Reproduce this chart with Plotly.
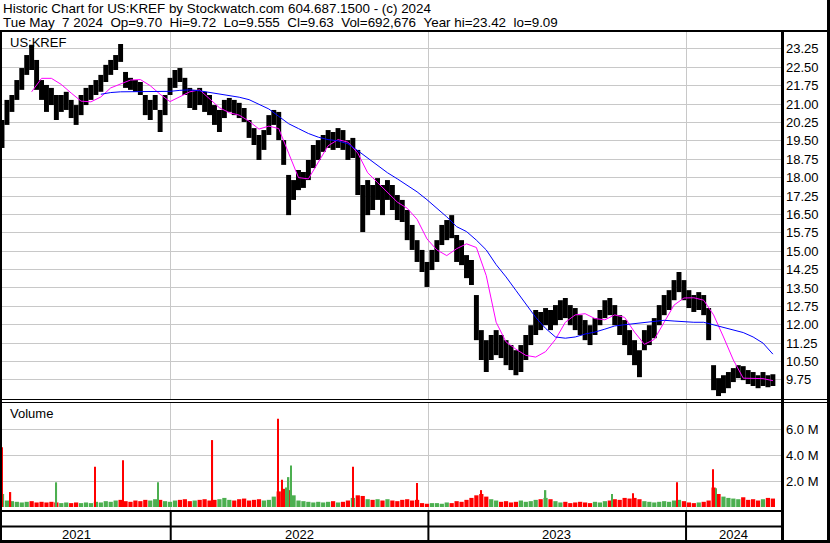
import numpy as np
import pandas as pd
import plotly.graph_objects as go

# ---------------- data (weekly) ----------------
week_start = "2021-05-07"
price_high = [20.35, 21.17, 21.37, 21.98, 22.47, 23.0, 23.42, 22.8, 21.98, 21.78,
              21.66, 21.37, 21.37, 21.5, 21.17, 20.96, 21.37, 21.66, 21.78, 21.98,
              22.19, 22.6, 22.8, 23.0, 23.45, 22.31, 22.07, 21.98, 21.9, 21.37,
              21.17, 21.37, 20.76, 21.37, 22.07, 22.39, 22.47, 22.07, 21.66, 21.58,
              21.66, 21.5, 21.37, 20.96, 20.76, 21.17, 21.25, 21.17, 21.05, 20.84,
              20.35, 20.02, 19.74, 19.94, 20.55, 20.76, 20.68, 19.53, 18.11, 17.9,
              18.31, 18.23, 18.72, 19.33, 19.53, 19.74, 19.94, 19.86, 20.02, 19.94,
              19.53, 19.62, 19.13, 17.7, 17.9, 17.7, 17.98, 17.7, 17.9, 17.7,
              17.29, 17.09, 16.68, 16.07, 15.45, 15.05, 14.56, 15.05, 15.45, 16.07,
              16.27, 16.47, 15.66, 15.45, 14.84, 14.64, 13.21, 11.78, 11.37, 11.58,
              11.78, 11.58, 11.37, 11.17, 10.96, 11.17, 11.58, 11.98, 12.6, 12.52,
              12.68, 12.6, 12.8, 13.0, 13.09, 12.8, 12.68, 12.39, 12.19, 11.98,
              12.27, 12.6, 13.0, 13.09, 12.8, 12.39, 12.19, 11.78, 11.37, 10.96,
              11.78, 11.98, 12.27, 12.8, 13.21, 13.41, 13.82, 14.15, 13.82, 13.41,
              13.21, 13.33, 13.21, 12.68, 10.35, 9.82, 9.94, 10.07, 10.23, 10.35,
              10.31, 10.15, 10.07, 9.94, 10.07, 9.94, 9.98]
price_low = [19.21, 20.15, 20.68, 21.17, 21.58, 22.19, 22.39, 21.58, 21.17, 20.68,
             20.96, 20.35, 20.68, 20.76, 20.43, 20.15, 20.55, 20.96, 21.17, 21.37,
             21.5, 21.9, 22.19, 22.39, 22.72, 21.66, 21.58, 21.5, 21.37, 20.55,
             20.35, 20.76, 19.86, 20.55, 21.37, 21.66, 21.9, 21.37, 20.84, 20.76,
             20.96, 20.68, 20.55, 20.15, 19.86, 20.43, 20.68, 20.55, 20.43, 20.27,
             19.62, 19.33, 18.72, 19.13, 19.74, 20.15, 19.53, 18.52, 16.47, 17.09,
             17.49, 17.58, 17.9, 18.39, 18.72, 19.05, 19.21, 19.13, 19.21, 19.13,
             18.72, 18.8, 17.29, 15.78, 16.47, 16.68, 17.09, 16.47, 17.09, 16.68,
             16.27, 16.19, 15.45, 15.05, 14.56, 14.15, 13.54, 14.23, 14.56, 15.25,
             15.45, 15.53, 14.56, 14.43, 13.9, 13.62, 11.37, 10.56, 10.07, 10.56,
             10.76, 10.64, 10.35, 10.15, 9.94, 10.07, 10.56, 11.17, 11.58, 11.78,
             11.98, 11.78, 11.98, 12.19, 12.27, 11.98, 11.78, 11.58, 11.37, 11.17,
             11.58, 11.98, 12.27, 12.39, 11.98, 11.58, 11.17, 10.76, 10.35, 9.86,
             10.96, 11.17, 11.45, 11.98, 12.39, 12.6, 13.0, 13.33, 13.0, 12.68,
             12.52, 12.6, 12.39, 11.37, 9.33, 9.09, 9.21, 9.41, 9.66, 9.82,
             9.74, 9.58, 9.5, 9.41, 9.5, 9.45, 9.5]
price_close = [20.1, 20.9, 21.2, 21.8, 22.3, 22.8, 22.6, 21.8, 21.5, 21.3,
               21.2, 20.8, 21.0, 21.0, 20.7, 20.5, 21.1, 21.4, 21.5, 21.8,
               21.9, 22.4, 22.6, 22.9, 22.8, 21.9, 21.8, 21.7, 21.5, 20.8,
               20.9, 21.0, 20.4, 21.2, 21.9, 22.1, 22.0, 21.6, 21.2, 21.3,
               21.2, 21.0, 20.8, 20.5, 20.6, 20.9, 21.0, 20.8, 20.7, 20.4,
               19.9, 19.6, 19.3, 19.8, 20.3, 20.5, 19.8, 18.8, 17.2, 17.5,
               17.9, 17.9, 18.4, 19.0, 19.2, 19.5, 19.6, 19.5, 19.7, 19.4,
               19.1, 19.2, 17.6, 16.9, 17.2, 17.1, 17.5, 17.0, 17.4, 17.0,
               16.7, 16.5, 15.9, 15.4, 14.9, 14.5, 14.2, 14.8, 15.2, 15.8,
               16.0, 15.8, 15.0, 14.8, 14.2, 13.9, 11.8, 11.0, 10.9, 11.2,
               11.3, 11.0, 10.8, 10.6, 10.4, 10.9, 11.3, 11.7, 12.2, 12.1,
               12.4, 12.2, 12.5, 12.7, 12.6, 12.3, 12.1, 11.9, 11.7, 11.6,
               12.0, 12.4, 12.8, 12.6, 12.2, 11.9, 11.5, 11.1, 10.7, 10.6,
               11.4, 11.7, 12.0, 12.5, 12.9, 13.1, 13.6, 13.7, 13.3, 13.0,
               12.9, 13.0, 12.7, 11.6, 9.6, 9.5, 9.7, 9.8, 10.0, 10.1,
               9.9, 9.8, 9.7, 9.6, 9.8, 9.7, 9.63]
volume_m = [1.0, 0.5, 0.45, 0.4, 0.35, 0.4, 0.45, 0.35, 0.4, 0.35, 0.4, 0.35,
            0.3, 0.35, 0.3, 0.35, 0.3, 0.35, 0.3, 0.4,
            0.35, 0.45, 0.4, 0.5, 0.55,
            0.45, 0.4, 0.5, 0.45, 0.55, 0.5, 0.6, 0.55,
            0.45, 0.4, 0.5, 0.55, 0.6, 0.45, 0.5, 0.55, 0.6, 0.5,
            0.55, 0.6, 0.7, 0.55, 0.5, 0.6, 0.65, 0.5, 0.55, 0.6, 0.5, 0.55,
            0.8, 1.2, 1.4, 1.3, 0.9,
            0.5, 0.45, 0.4, 0.35, 0.4, 0.35, 0.4, 0.45, 0.35, 0.4,
            0.5, 0.7, 0.9, 0.85, 0.6,
            0.55, 0.6, 0.5, 0.6, 0.5, 0.45, 0.55, 0.6, 0.5, 0.55,
            0.3, 0.25, 0.3, 0.3, 0.25, 0.35, 0.3,
            0.45, 0.4, 0.55, 0.7, 0.9, 1.0, 0.8, 0.6, 0.5,
            0.4, 0.45, 0.35, 0.4, 0.5, 0.4, 0.45, 0.55,
            0.6, 0.7, 0.6, 0.45,
            0.35, 0.4, 0.3, 0.35, 0.4, 0.35, 0.3, 0.4, 0.35,
            0.45, 0.5, 0.6, 0.55, 0.7, 0.65, 0.7, 0.6,
            0.45, 0.4, 0.35, 0.4, 0.45, 0.4, 0.5, 0.55,
            0.45, 0.35, 0.3, 0.35, 0.4, 0.5,
            1.5, 1.0, 0.8, 0.7, 0.65,
            0.6, 0.75, 0.55, 0.6, 0.5, 0.6, 0.7, 0.65]

# single-day volume spikes (millions)
spike_dates = ["2021-05-07", "2021-05-19", "2021-07-23", "2021-09-16", "2021-10-25",
               "2021-12-14", "2022-03-01", "2022-06-02", "2022-06-08", "2022-06-13",
               "2022-06-17", "2022-06-20", "2022-09-16", "2022-12-16", "2023-03-17",
               "2023-06-16", "2023-09-18", "2023-10-18", "2023-12-19", "2024-02-08",
               "2024-02-12"]
spike_vol = [4.6, 1.15, 1.9, 3.1, 3.6, 1.9, 5.15, 6.8, 2.1, 1.5,
             2.3, 3.2, 3.1, 1.85, 1.3, 1.3, 1.0, 1.05, 1.9, 2.9, 1.45]
spike_up = [False, False, True, False, False, True, False, False, False, True,
            True, True, False, False, False, True, True, False, False, False, True]

# moving averages, sampled every 2 weeks
ma_short_start = 6
ma_short = [21.5, 22.05, 22.05, 21.8, 21.45, 21.12, 21.09, 21.29, 21.66, 21.82,
            21.98, 22.0, 21.75, 21.4, 21.1, 21.3, 21.5, 21.58, 21.2, 20.85,
            20.65, 20.55, 20.3, 19.98, 20.1, 20.0, 19.0, 18.0, 17.95, 18.6,
            19.3, 19.55, 19.45, 19.0, 18.2, 17.8, 17.4, 17.0, 16.75, 16.3,
            15.5, 15.05, 14.82, 15.1, 15.3, 15.15, 14.0, 12.1, 11.3, 11.0,
            10.75, 10.68, 10.9, 11.4, 12.1, 12.4, 12.45, 12.25, 12.2, 12.4,
            12.3, 11.7, 11.2, 11.4, 12.1, 12.8, 13.09, 13.1, 13.0, 12.4,
            11.5, 10.56, 9.82, 9.82, 9.8, 9.72]
ma_long_start = 20
ma_long = [21.4, 21.47, 21.5, 21.5, 21.52, 21.52, 21.52, 21.52, 21.56, 21.58,
           21.54, 21.48, 21.42, 21.37, 21.28, 21.18, 21.0, 20.8, 20.5, 20.2,
           20.0, 19.8, 19.65, 19.55, 19.5, 19.38, 19.1, 18.8, 18.5, 18.2,
           17.95, 17.7, 17.42, 17.1, 16.75, 16.4, 16.0, 15.8, 15.45, 15.05,
           14.45, 13.95, 13.4, 12.85, 12.3, 11.85, 11.5, 11.45, 11.5, 11.62,
           11.7, 11.82, 11.95, 12.0, 12.05, 12.1, 12.15, 12.18, 12.15, 12.12,
           12.1, 12.1, 12.0, 11.9, 11.8, 11.68, 11.5, 11.25, 10.8]

price_ticks = [9.75, 10.50, 11.25, 12.00, 12.75, 13.50, 14.25, 15.00, 15.75, 16.50,
               17.25, 18.00, 18.75, 19.50, 20.25, 21.00, 21.75, 22.50, 23.25]
vol_ticks = [2, 4, 6]
vol_tick_labels = ["2.0 M", "4.0 M", "6.0 M"]
year_bounds = ["2022-01-01", "2023-01-01", "2024-01-01"]
year_labels = ["2021", "2022", "2023", "2024"]
year_label_pos = ["2021-08-20", "2022-07-02", "2023-07-02", "2024-03-08"]

GAP = "\u00a0\u00a0"
header1 = "Historic Chart for US:KREF by Stockwatch.com 604.687.1500 - (c) 2024"
header2 = ("Tue May" + GAP + "7 2024" + GAP + "Op=9.70" + GAP + "Hi=9.72" + GAP +
           "Lo=9.555" + GAP + "Cl=9.63" + GAP + "Vol=692,676" + GAP +
           "Year hi=23.42" + GAP + "lo=9.09")

# ---------------- figure ----------------
W, H = 830, 543
ML, MR, MT, MB = 2, 49, 32, 33
PW, PH = W - ML - MR, H - MT - MB


def px(xp):
    return (xp - ML) / PW


def py(yp):
    return (H - MB - yp) / PH


weeks = pd.date_range(week_start, periods=len(price_high), freq="7D")
hi = np.array(price_high)
lo = np.array(price_low)
cl = np.array(price_close)
DAY = 86400000

RED = "#ff0000"
GREEN = "#4caf50"
vol_colors = [GREEN] + [GREEN if cl[i] >= cl[i - 1] else RED for i in range(1, len(cl))]

fig = go.Figure()
fig.add_trace(go.Bar(x=weeks, y=hi - lo, base=lo, width=7.0 * DAY,
                     marker=dict(color="black", line=dict(width=0)),
                     xaxis="x", yaxis="y", showlegend=False))
fig.add_trace(go.Scatter(x=weeks[ma_short_start::2], y=ma_short, mode="lines",
                         line=dict(color="#ff00ff", width=1), xaxis="x", yaxis="y",
                         showlegend=False))
fig.add_trace(go.Scatter(x=weeks[ma_long_start::2], y=ma_long, mode="lines",
                         line=dict(color="#0000ff", width=1), xaxis="x", yaxis="y",
                         showlegend=False))
fig.add_trace(go.Bar(x=weeks, y=volume_m, width=6.0 * DAY,
                     marker=dict(color=vol_colors, line=dict(width=0)),
                     xaxis="x", yaxis="y2", showlegend=False))
fig.add_trace(go.Bar(x=pd.to_datetime(spike_dates), y=spike_vol, width=2.0 * DAY,
                     marker=dict(color=[GREEN if u else RED for u in spike_up],
                                 line=dict(width=0)),
                     xaxis="x", yaxis="y2", showlegend=False))

GRID = "#c8c8c8"
FONT = "Liberation Sans, Arial, sans-serif"
tick_font = dict(family=FONT, size=13, color="black")

fig.update_layout(
    width=W, height=H, margin=dict(l=ML, r=MR, t=MT, b=MB),
    paper_bgcolor="white", plot_bgcolor="white", barmode="overlay",
    font=dict(family=FONT, color="black"),
    xaxis=dict(type="date", domain=[0, 1], anchor="y2",
               range=["2021-05-07", "2024-05-14 12:00"],
               tickvals=year_bounds, showticklabels=False, ticks="",
               showgrid=True, gridcolor=GRID, gridwidth=1, zeroline=False,
               showline=False, fixedrange=True),
    yaxis=dict(domain=[py(399), 1], side="right", range=[8.97, 23.94],
               tickvals=price_ticks, ticktext=[f"{v:.2f}" for v in price_ticks],
               tickfont=tick_font, ticks="", ticklabelstandoff=4,
               showgrid=True, gridcolor=GRID, gridwidth=1, zeroline=False,
               showline=False, anchor="x"),
    yaxis2=dict(domain=[0, py(402)], side="right", range=[-0.23, 8.08],
                tickvals=vol_ticks, ticktext=vol_tick_labels,
                tickfont=tick_font, ticks="", ticklabelstandoff=4,
                showgrid=True, gridcolor=GRID, gridwidth=1, zeroline=False,
                showline=False, anchor="x"),
)

shapes = []


def hline(yp, x0p, x1p, w):
    shapes.append(dict(type="line", xref="paper", yref="paper",
                       x0=px(x0p), x1=px(x1p), y0=py(yp), y1=py(yp),
                       line=dict(color="black", width=w)))


def vline(xp, y0p, y1p, w):
    shapes.append(dict(type="line", xref="paper", yref="paper",
                       x0=px(xp), x1=px(xp), y0=py(y0p), y1=py(y1p),
                       line=dict(color="black", width=w)))


hline(31, 0, 830, 2)          # header bottom
hline(399.5, 0, 830, 1)       # price bottom
hline(402.5, 0, 830, 1)       # volume top
hline(511, 0, 782, 2)         # volume bottom
hline(526.5, 0, 782, 2)       # strip separator
hline(541.5, 0, 830, 3)       # bottom border
vline(1, 30, 543, 2)          # left border
vline(782.5, 30, 543, 3)      # right axis line
vline(828.5, 0, 543, 3)       # outer right border
for d in year_bounds:
    shapes.append(dict(type="line", xref="x", yref="paper", x0=d, x1=d,
                       y0=py(511), y1=py(541), line=dict(color="black", width=2)))
fig.update_layout(shapes=shapes)

HFS = 13.4
ann = [
    dict(text=header1, x=px(2), y=py(8.5), xref="paper", yref="paper",
         xanchor="left", yanchor="middle", showarrow=False, borderpad=0,
         font=dict(family=FONT, size=HFS, color="black")),
    dict(text=header2, x=px(2), y=py(23), xref="paper", yref="paper",
         xanchor="left", yanchor="middle", showarrow=False, borderpad=0,
         font=dict(family=FONT, size=HFS, color="black")),
    dict(text="US:KREF", x=px(8), y=py(42), xref="paper", yref="paper",
         xanchor="left", yanchor="middle", showarrow=False,
         font=dict(family=FONT, size=13, color="black")),
    dict(text="Volume", x=px(8), y=py(413), xref="paper", yref="paper",
         xanchor="left", yanchor="middle", showarrow=False,
         font=dict(family=FONT, size=13, color="black")),
]
for lab, pos in zip(year_labels, year_label_pos):
    ann.append(dict(text=lab, x=pos, y=py(534), xref="x", yref="paper",
                    xanchor="center", yanchor="middle", showarrow=False,
                    font=dict(family=FONT, size=13, color="black")))
fig.update_layout(annotations=ann)

fig.write_html("out.html", config={"displayModeBar": False},
               post_script="document.body.style.margin='0';")
